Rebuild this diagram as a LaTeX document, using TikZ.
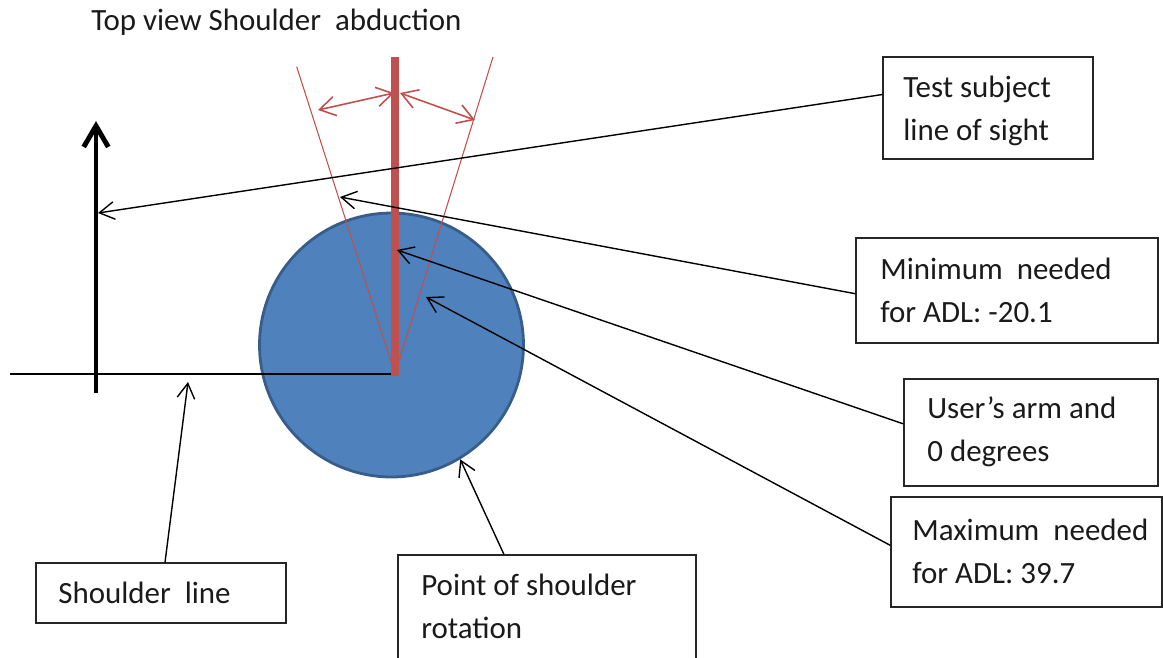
\documentclass[tikz,border=0pt]{standalone}
\usepackage{fontspec}
\setmainfont{Carlito}
\usetikzlibrary{arrows.meta,fit,calc}
\definecolor{accred}{HTML}{C0504D}
\definecolor{accblue}{HTML}{4F81BD}
\definecolor{accblueline}{HTML}{385D8A}
\definecolor{txtcol}{HTML}{1A1A1A}
\begin{document}
\begin{tikzpicture}[x=0.02cm,y=-0.02cm,
  box/.style={draw=black!85, line width=0.9pt, inner sep=0pt},
  lbl/.style={font=\fontsize{17.6}{24.4}\selectfont, text=txtcol, anchor=base west, inner sep=0pt, align=left},
  conn/.style={draw=black, line width=0.8pt, -{Straight Barb[length=8.5pt,width=10pt]}},
  redthin/.style={draw=accred, line width=0.6pt},
  redarrow/.style={draw=accred, line width=0.9pt, {Straight Barb[length=9pt,width=11pt]}-{Straight Barb[length=9pt,width=11pt]}}]
\useasboundingbox (0,0) rectangle (1163,657);

% title
\node[lbl] (title) at (91,30) {Top view Shoulder \ abduction};

% shoulder circle
\node[circle, minimum size=5.28cm, inner sep=0pt, fill=accblue, draw=accblueline, line width=1.6pt] (circ) at (391.5,345) {};

% shoulder line
\coordinate (slstart) at (10,374);
\coordinate (pivot) at (395,374);
\draw[line width=0.9pt] (slstart) -- (pivot);

% range lines
\coordinate (leftlim) at (296.7,66.7);
\coordinate (rightlim) at (493,57);
\draw[redthin] (leftlim) -- (pivot) -- (rightlim);

% arm bar
\coordinate (armtop) at (395,57);
\draw[draw=accred, line width=4.6pt] (armtop) -- (395,376);

% angle arrows
\coordinate (la1) at (318,110);
\coordinate (la2) at (394,93);
\coordinate (ra1) at (400,93);
\coordinate (ra2) at (475,120);
\draw[redarrow] (la1) -- (la2);
\draw[redarrow] (ra1) -- (ra2);

% line of sight arrow
\coordinate (losbase) at (96,393);
\coordinate (lostip) at (96,121);
\draw[line width=2.8pt, -{Straight Barb[length=12pt,width=14pt]}] (losbase) -- (lostip);

% boxes
\node[box, fit={(883,57) (1093,159)}] (tsl) {};
\node[box, fit={(856,238) (1158,343)}] (minb) {};
\node[box, fit={(904,379) (1158,486)}] (armb) {};
\node[box, fit={(891,497) (1162,607)}] (maxb) {};
\node[box, fit={(36,563) (286,623)}] (slb) {};
\node[box, fit={(398,555) (696,700)}] (ptb) {};

% texts (anchor = baseline of the last line)
\node[lbl] (tsltxt) at (903,140) {Test subject\\line of sight};
\node[lbl] (mintxt) at (880,322) {Minimum \ needed\\for ADL: -20.1};
\node[lbl] (armtxt) at (927,461) {User’s arm and\\0 degrees};
\node[lbl] (maxtxt) at (912,583) {Maximum \ needed\\for ADL: 39.7};
\node[lbl] (sltxt) at (58,603) {Shoulder \ line};
\node[lbl] (pttxt) at (421,638) {Point of shoulder\\rotation};

% targets
\coordinate (losT) at (98,213);
\coordinate (minT) at (340,197);
\coordinate (armT) at (397,250);
\coordinate (maxT) at (426,297);
\coordinate (slT) at (188,382);

% connectors
\draw[conn] ($(tsl.north west)!0.37!(tsl.south west)$) -- (losT);
\draw[conn] ($(minb.north west)!0.53!(minb.south west)$) -- (minT);
\draw[conn] ($(armb.north west)!0.42!(armb.south west)$) -- (armT);
\draw[conn] ($(maxb.north west)!0.44!(maxb.south west)$) -- (maxT);
\draw[conn] ($(slb.north west)!0.516!(slb.north east)$) -- (slT);
\draw[conn] ($(ptb.north west)!0.356!(ptb.north east)$) -- (circ.-59);
\end{tikzpicture}
\end{document}
